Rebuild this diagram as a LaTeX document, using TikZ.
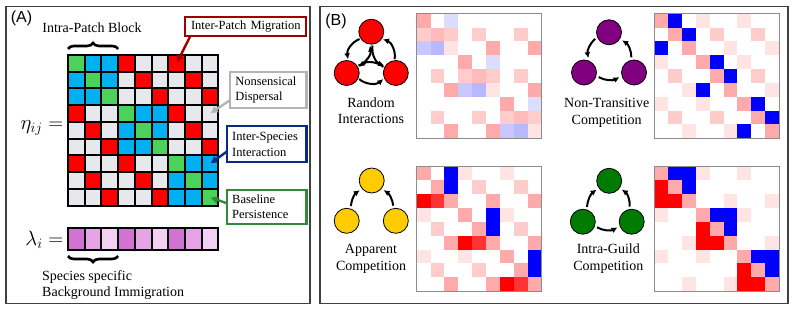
\documentclass[tikz,border=0pt]{standalone}
\usepackage{fontspec}
\setmainfont{Liberation Serif}
\setsansfont{Liberation Sans}
\usepackage{tikz}
\usetikzlibrary{arrows.meta,decorations.pathreplacing}
\definecolor{PatG}{HTML}{4BD25A}
\definecolor{PatB}{HTML}{00B0F0}
\definecolor{PatR}{HTML}{FF0000}
\definecolor{PatW}{HTML}{E6E8EC}
\definecolor{LamA}{HTML}{D272D2}
\definecolor{LamB}{HTML}{E6A3E6}
\definecolor{LamC}{HTML}{F3CFF3}
\definecolor{MigC}{HTML}{A00000}
\definecolor{DisC}{HTML}{B4B4B4}
\definecolor{IntC}{HTML}{0B2A85}
\definecolor{PerC}{HTML}{2E8B3A}
\definecolor{Frame}{HTML}{404040}
\definecolor{RanC}{HTML}{FF0000}
\definecolor{NtrC}{HTML}{800080}
\definecolor{AppC}{HTML}{FFCC00}
\definecolor{GldC}{HTML}{007A00}
\definecolor{hm0}{HTML}{FFFFFF}
\definecolor{hma}{HTML}{FFE4E4}
\definecolor{hmb}{HTML}{FFCCCC}
\definecolor{hmj}{HTML}{FFBBBB}
\definecolor{hmc}{HTML}{FFAAAA}
\definecolor{hmd}{HTML}{FF3333}
\definecolor{hme}{HTML}{FF0000}
\definecolor{hmf}{HTML}{0000FF}
\definecolor{hmg}{HTML}{DDDDFF}
\definecolor{hmh}{HTML}{C8C8FF}
\definecolor{hmi}{HTML}{B8B8FF}
\newcommand{\hcell}{13.85}
\newcommand{\hmap}[3]{%
  \foreach \row [count=\i] in {#3}
    \foreach \hv [count=\j] in \row
      \fill[fill=hm\hv] ({#1+(\j-1)*\hcell},{#2+(\i-1)*\hcell}) rectangle ++(\hcell,\hcell);
  \draw[hmframe] (#1,#2) rectangle ++({9*\hcell},{9*\hcell});}

\begin{document}
\begin{tikzpicture}[x=1pt,y=-1pt,
  panel/.style={draw=Frame,line width=1.3pt},
  cell/.style={draw=black,line width=2pt,minimum width=16.7pt,minimum height=16.75pt,
             inner sep=0pt,outer sep=0pt},
  lcell/.style={cell,minimum height=22pt},
  tag/.style={line width=2.2pt,fill=white,inner xsep=5pt,inner ysep=1pt,outer sep=0pt,
             align=left,anchor=north west,font=\fontsize{12.5}{15.5}\selectfont},
  lead/.style={-{Triangle[length=7pt,width=7pt]},line width=2.4pt,shorten >=1pt},
  note/.style={font=\fontsize{14}{16}\selectfont,align=left,inner sep=0pt},
  blab/.style={font=\fontsize{14}{16.5}\selectfont,align=center,inner sep=0pt},
  brc/.style={decorate,decoration={brace,amplitude=6pt,aspect=.5},line width=2.6pt},
  agent/.style={circle,draw=black,line width=.8pt,minimum size=25pt,inner sep=0pt},
  ar/.style={-{Latex[length=6pt,width=6pt]},line width=2pt,shorten >=2.5pt,shorten <=2.5pt},
  hmframe/.style={draw=black!45,line width=.8pt}]

\useasboundingbox (0,0) rectangle (793,310);
\draw[panel] (6,6.5) rectangle (310,303.5);
\draw[panel] (320,6.5) rectangle (788,303.5);
\node[font=\sffamily\fontsize{16}{18}\selectfont] (pa) at (21.5,18.5) {(A)};
\node[font=\sffamily\fontsize{16}{18}\selectfont] (pb) at (336,21) {(B)};

% panel A: interaction matrix
\foreach \row [count=\i] in {{G,B,B,R,W,W,R,W,W},{B,G,B,W,R,W,W,R,W},{B,B,G,W,W,R,W,W,R},
    {R,W,W,G,B,B,R,W,W},{W,R,W,B,G,B,W,R,W},{W,W,R,B,B,G,W,W,R},
    {R,W,W,R,W,W,G,B,B},{W,R,W,W,R,W,B,G,B},{W,W,R,W,W,R,B,B,G}}
  \foreach \pv [count=\j] in \row
    \node[cell,fill=Pat\pv] (g-\i-\j) at ({59.65+\j*16.7},{46.6+\i*16.75}) {};
\foreach \pv [count=\j] in {A,B,C,A,B,C,A,B,C}
  \node[lcell,fill=Lam\pv] (l-\j) at ({59.65+\j*16.7},239) {};

\node[font=\fontsize{21}{25}\selectfont,anchor=east,inner sep=0pt] (eta) at (63.5,128) {$\eta_{ij} =$};
\node[font=\fontsize{21}{25}\selectfont,anchor=east,inner sep=0pt] (lam) at (63.5,240) {$\lambda_i =$};

\draw[brc] ([yshift=6pt]g-1-1.north west) -- ([yshift=6pt]g-1-3.north east);
\draw[brc] ([yshift=-6pt]l-3.south east) -- ([yshift=-6pt]l-1.south west);
\node[note] (blk) at (92,28) {Intra-Patch Block};
\node[note,anchor=west] (bim) at (42,285) {Species specific\\Background Immigration};

\node[tag,draw=MigC,minimum width=121pt,minimum height=19pt,text width=111pt,align=center]
  (mig) at (185.3,17.2) {Inter-Patch Migration};
\node[tag,draw=DisC,minimum width=76.2pt,minimum height=36pt,text width=66.2pt]
  (dis) at (230.3,72) {Nonsensical\\Dispersal};
\node[tag,draw=IntC,minimum width=79.3pt,minimum height=36pt,text width=69.3pt]
  (ins) at (227.2,126.3) {Inter-Species\\Interaction};
\node[tag,draw=PerC,minimum width=79.3pt,minimum height=34.3pt,text width=69.3pt]
  (per) at (227.2,189.7) {Baseline\\Persistence};

\draw[lead,MigC] ([xshift=5pt]mig.south west) -- (g-1-7.center);
\draw[lead,DisC] ([yshift=-10pt]dis.west) -- (g-4-9.center);
\draw[lead,IntC] ([yshift=-7pt]ins.west) -- (g-7-9.center);
\draw[lead,PerC] ([yshift=3.5pt]per.west) -- (g-9-9.center);

% panel B: motifs
\node[agent,fill=RanC] (ri-t) at (371.3,31.7) {};
\node[agent,fill=RanC] (ri-l) at (346.7,73) {};
\node[agent,fill=RanC] (ri-r) at (395.8,73) {};
\foreach \a/\b/\s/\e in {t/l/213/83,l/t/33/263,r/t/96/326,t/r/276/146,l/r/335/205,r/l/155/25}
  \draw[ar,shorten >=1pt,shorten <=1pt] (ri-\a.\s) to[bend right=40] (ri-\b.\e);
\node[blab] (ri-n) at (371,110.5) {Random\\Interactions};

\node[agent,fill=NtrC] (nt-t) at (609,32.3) {};
\node[agent,fill=NtrC] (nt-l) at (584,72.5) {};
\node[agent,fill=NtrC] (nt-r) at (634,72.5) {};
\foreach \a/\b/\s/\e in {t/l/202/68,l/r/345/195,r/t/102/328}
  \draw[ar] (nt-\a.\s) to[bend right=30] (nt-\b.\e);
\node[blab] (nt-n) at (606.7,113) {Non-Transitive\\Competition};

\node[agent,fill=AppC] (ac-t) at (371.7,180.5) {};
\node[agent,fill=AppC] (ac-l) at (346.7,220.8) {};
\node[agent,fill=AppC] (ac-r) at (395.8,220.8) {};
\draw[ar] (ac-l.72) to[bend left=25] (ac-t.220);
\draw[ar] (ac-r.100) to[bend right=25] (ac-t.320);
\node[blab] (ac-n) at (371,259) {Apparent\\Competition};

\node[agent,fill=GldC] (ig-t) at (609.2,180.8) {};
\node[agent,fill=GldC] (ig-l) at (582.8,221.7) {};
\node[agent,fill=GldC] (ig-r) at (631.7,221.7) {};
\draw[ar] (ig-l.72) to[bend left=25] (ig-t.215);
\foreach \a/\b/\s/\e in {l/r/340/200,r/t/100/325}
  \draw[ar] (ig-\a.\s) to[bend right=30] (ig-\b.\e);
\node[blab] (ig-n) at (608.3,258.5) {Intra-Guild\\Competition};

% heatmaps
\hmap{416.7}{13.7}{{c,0,g,0,0,0,0,0,0},{b,j,b,0,b,0,0,b,0},{h,i,a,0,0,c,0,0,c},
  {0,0,0,c,0,g,0,0,0},{0,b,0,b,j,b,0,b,0},{0,0,c,h,i,a,0,0,c},
  {0,0,0,0,0,0,c,0,g},{0,b,0,0,b,0,b,j,b},{0,0,c,0,0,c,h,i,a}}
\hmap{654.3}{13.7}{{c,f,0,a,0,0,a,0,0},{0,c,f,0,b,0,0,b,0},{f,0,c,0,0,a,0,0,a},
  {a,0,0,c,f,0,a,0,0},{0,b,0,0,c,f,0,b,0},{0,0,a,f,0,c,0,0,a},
  {a,0,0,a,0,0,c,f,0},{0,b,0,0,b,0,0,c,f},{0,0,a,0,0,a,f,0,c}}
\hmap{416.7}{166.5}{{c,0,f,a,0,0,a,0,0},{0,c,f,0,b,0,0,b,0},{e,d,c,0,0,c,0,0,c},
  {a,0,0,c,0,f,a,0,0},{0,b,0,0,c,f,0,b,0},{0,0,c,e,d,c,0,0,c},
  {a,0,0,a,0,0,c,0,f},{0,b,0,0,b,0,0,c,f},{0,0,c,0,0,c,e,d,c}}
\hmap{654.3}{166.5}{{c,f,f,a,0,0,a,0,0},{e,c,f,0,0,0,0,0,0},{e,e,c,0,0,a,0,0,a},
  {a,0,0,c,f,f,a,0,0},{0,0,0,e,c,f,0,0,0},{0,0,a,e,e,c,0,0,a},
  {a,0,0,a,0,0,c,f,f},{0,0,0,0,0,0,e,c,f},{0,0,a,0,0,a,e,e,c}}

\end{tikzpicture}
\end{document}
